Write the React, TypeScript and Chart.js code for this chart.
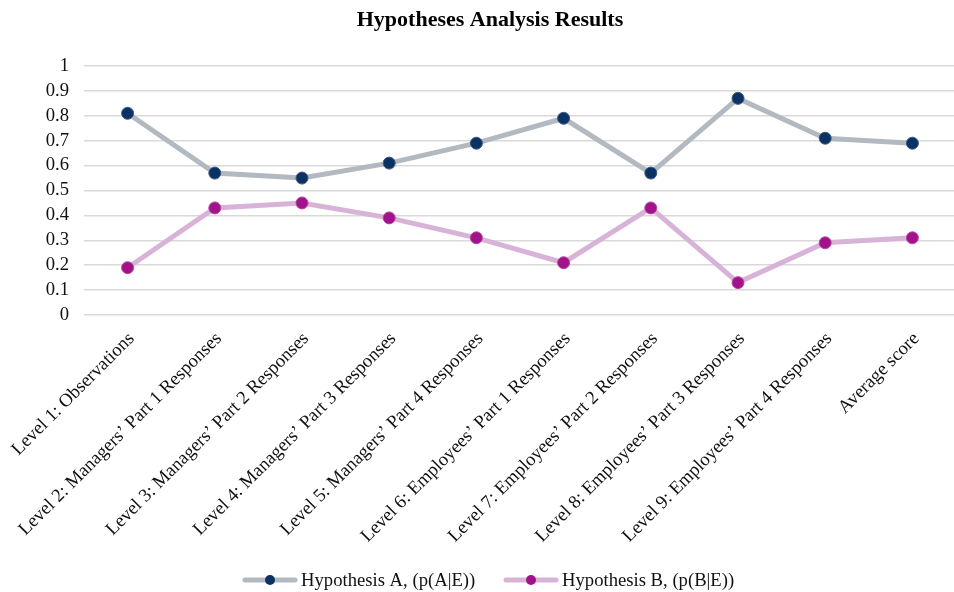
import React, { useEffect, useRef } from "react";
import { Chart, registerables } from "chart.js";

Chart.register(...registerables);

const categories = [
  "Level 1: Observations",
  "Level 2: Managers’ Part 1 Responses",
  "Level 3: Managers’ Part 2 Responses",
  "Level 4: Managers’ Part 3 Responses",
  "Level 5: Managers’ Part 4 Responses",
  "Level 6: Employees’ Part 1 Responses",
  "Level 7: Employees’ Part 2 Responses",
  "Level 8: Employees’ Part 3 Responses",
  "Level 9: Employees’ Part 4 Responses",
  "Average score",
];

const hypothesisA = [0.81, 0.57, 0.55, 0.61, 0.69, 0.79, 0.57, 0.87, 0.71, 0.69];
const hypothesisB = [0.19, 0.43, 0.45, 0.39, 0.31, 0.21, 0.43, 0.13, 0.29, 0.31];

const seriesNames = ["Hypothesis A, (p(A|E))", "Hypothesis B, (p(B|E))"];
const yTickLabels = ["0", "0.1", "0.2", "0.3", "0.4", "0.5", "0.6", "0.7", "0.8", "0.9", "1"];
const titleText = "Hypotheses Analysis Results";

const FONT = "'Liberation Serif', 'Times New Roman', Times, serif";
const FS = 18.67;

const lineColors = ["#b3b9c0", "#d8b3d8"];
const pointColors = ["#0c3164", "#a2128a"];

const decorPlugin = {
  id: "decor",
  afterDraw(chart: any) {
    const ctx = chart.ctx;
    ctx.save();
    // title
    ctx.fillStyle = "#000";
    ctx.font = `bold 22px ${FONT}`;
    ctx.textAlign = "center";
    ctx.textBaseline = "middle";
    ctx.fillText(titleText, 490, 20);
    // legend
    const starts = [243, 504];
    const y = 580;
    chart.data.datasets.forEach((ds: any, i: number) => {
      const x0 = starts[i];
      ctx.strokeStyle = lineColors[i];
      ctx.lineWidth = 5;
      ctx.lineCap = "round";
      ctx.beginPath();
      ctx.moveTo(x0 + 2, y);
      ctx.lineTo(x0 + 52, y);
      ctx.stroke();
      ctx.fillStyle = pointColors[i];
      ctx.beginPath();
      ctx.arc(x0 + 27, y, 5, 0, Math.PI * 2);
      ctx.fill();
      ctx.fillStyle = "#111";
      ctx.font = `${FS}px ${FONT}`;
      ctx.textAlign = "left";
      ctx.textBaseline = "middle";
      ctx.fillText(ds.label, x0 + 58, y + 1);
    });
    ctx.restore();
  },
};

export default function App() {
  const ref = useRef<HTMLCanvasElement | null>(null);

  useEffect(() => {
    if (!ref.current) return;
    Chart.defaults.font.family = FONT;
    const chart = new Chart(ref.current, {
      type: "line",
      data: {
        labels: categories,
        datasets: [
          {
            label: seriesNames[0],
            data: hypothesisA,
            borderColor: lineColors[0],
            borderWidth: 5,
            pointBackgroundColor: pointColors[0],
            pointBorderColor: "#3a5a84",
            pointBorderWidth: 1,
            pointRadius: 6,
            pointHoverRadius: 6,
            tension: 0,
          },
          {
            label: seriesNames[1],
            data: hypothesisB,
            borderColor: lineColors[1],
            borderWidth: 5,
            pointBackgroundColor: pointColors[1],
            pointBorderColor: "#b8479f",
            pointBorderWidth: 1,
            pointRadius: 6,
            pointHoverRadius: 6,
            tension: 0,
          },
        ],
      },
      options: {
        responsive: false,
        animation: false,
        layout: { padding: { top: 66, bottom: 0, left: 0, right: 0 } },
        plugins: {
          legend: { display: false },
          title: { display: false },
          tooltip: { enabled: false },
        },
        scales: {
          x: {
            offset: true,
            grid: { display: false },
            border: { display: false },
            ticks: {
              autoSkip: false,
              minRotation: 45,
              maxRotation: 45,
              padding: 5,
              labelOffset: 4,
              color: "#111",
              font: { size: FS, family: FONT },
            },
            afterFit: (scale: any) => {
              scale.height = 277;
            },
          },
          y: {
            min: 0,
            max: 1,
            border: { display: false },
            grid: { color: "#d9d9d9", lineWidth: 1.5, drawTicks: false },
            ticks: {
              autoSkip: false,
              stepSize: 0.1,
              padding: 15,
              color: "#111",
              font: { size: FS, family: FONT },
              callback: (_v: any, i: number) => yTickLabels[i],
            },
            afterFit: (scale: any) => {
              scale.width = 84;
            },
          },
        },
      },
      plugins: [decorPlugin],
    });
    return () => chart.destroy();
  }, []);

  return (
    <div
      style={{
        position: "fixed",
        left: 0,
        top: 0,
        width: 954,
        height: 592,
        overflow: "hidden",
        background: "#fff",
      }}
    >
      <canvas ref={ref} width={963} height={592} style={{ width: 963, height: 592, display: "block" }} />
    </div>
  );
}
